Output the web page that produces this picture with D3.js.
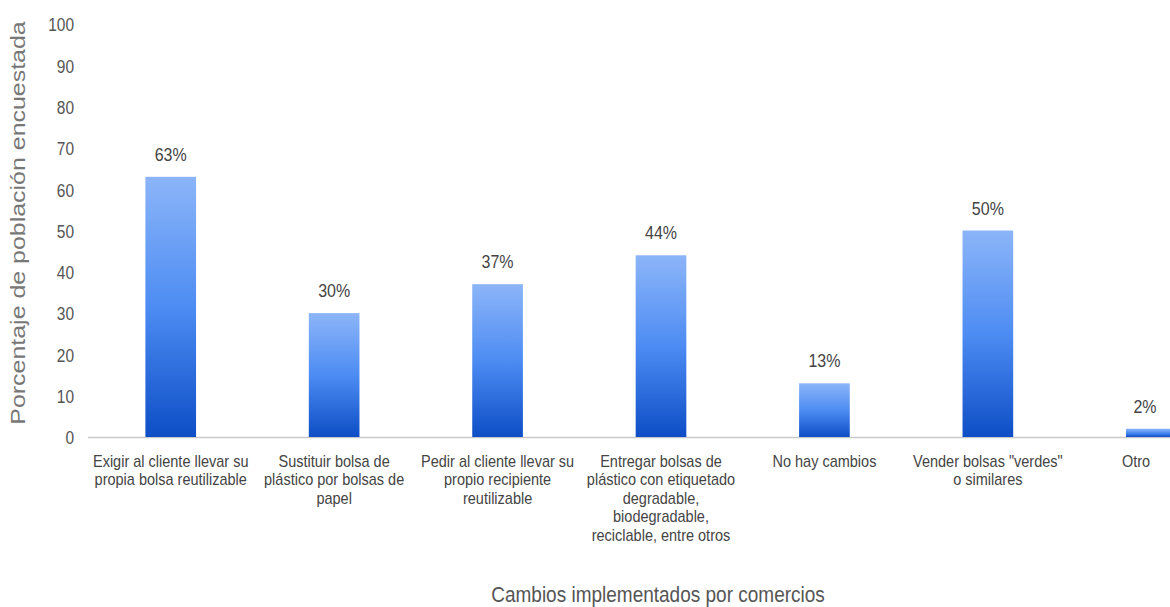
<!DOCTYPE html>
<html>
<head>
<meta charset="utf-8">
<script src="https://cdn.jsdelivr.net/npm/d3@7"></script>
<style>
  html, body { margin: 0; padding: 0; background: #fff; overflow: hidden; }
  svg { display: block; }
</style>
</head>
<body>
<svg id="chart" width="1170" height="607"></svg>
<script>
// Cambios implementados por comercios (porcentaje de población encuestada)
const categoryLines = [
  ["Exigir al cliente llevar su", "propia bolsa reutilizable"],
  ["Sustituir bolsa de", "plástico por bolsas de", "papel"],
  ["Pedir al cliente llevar su", "propio recipiente", "reutilizable"],
  ["Entregar bolsas de", "plástico con etiquetado", "degradable,", "biodegradable,", "reciclable, entre otros"],
  ["No hay cambios"],
  ["Vender bolsas \"verdes\"", "o similares"],
  ["Otro"]
];
const values = [63, 30, 37, 44, 13, 50, 2];
const yTicks = [0, 10, 20, 30, 40, 50, 60, 70, 80, 90, 100];
const yTitle = "Porcentaje de población encuestada";
const xTitle = "Cambios implementados por comercios";

const W = 1170, H = 607;
const font = "'Liberation Sans', Arial, sans-serif";
const svg = d3.select("#chart");

const plot = { left: 89, right: 1233, top: 24, bottom: 437 };

const x = d3.scaleBand()
  .domain(d3.range(values.length))
  .range([plot.left, plot.right])
  .paddingInner(0.69)
  .paddingOuter(0.345);

const y = d3.scaleLinear().domain([0, 100]).range([plot.bottom, plot.top]);

// bar gradient
const defs = svg.append("defs");
const grad = defs.append("linearGradient")
  .attr("id", "barGrad")
  .attr("x1", 0).attr("y1", 0).attr("x2", 0).attr("y2", 1);
grad.append("stop").attr("offset", "0%").attr("stop-color", "#8cb5f8");
grad.append("stop").attr("offset", "50%").attr("stop-color", "#4d8cf3");
grad.append("stop").attr("offset", "100%").attr("stop-color", "#0d4ec6");

// y axis tick labels (condensed look via vertical stretch)
const yAxis = d3.axisLeft(y).tickValues(yTicks).tickSize(0).tickPadding(0).tickFormat(d3.format("d"));
const yG = svg.append("g").attr("transform", "translate(74,0)").call(yAxis);
yG.select(".domain").remove();
yG.selectAll("text")
  .attr("fill", "#555")
  .attr("dy", "0.36em")
  .attr("transform", "scale(1,1.22)")
  .style("font-family", font)
  .style("font-size", "15.5px");

// baseline
svg.append("line")
  .attr("x1", plot.left - 1).attr("x2", W)
  .attr("y1", y(0) + 0.5).attr("y2", y(0) + 0.5)
  .attr("stroke", "#c8c8c8").attr("stroke-width", 1.5);

// bars
svg.append("g").selectAll("rect")
  .data(values)
  .join("rect")
  .attr("x", (d, i) => x(i))
  .attr("y", d => y(d))
  .attr("width", x.bandwidth())
  .attr("height", d => y(0) - y(d))
  .attr("fill", "url(#barGrad)");

// value labels
svg.append("g").selectAll("text")
  .data(values)
  .join("text")
  .attr("transform", (d, i) =>
    `translate(${Math.min(x(i) + x.bandwidth() / 2, 1145)},${y(d) - 16}) scale(1,1.16)`)
  .attr("text-anchor", "middle")
  .attr("fill", "#444")
  .style("font-family", font)
  .style("font-size", "16px")
  .text(d => d + "%");

// category labels
const catStretch = 1.1;
const catG = svg.append("g");
categoryLines.forEach((lines, i) => {
  const cx = Math.min(x(i) + x.bandwidth() / 2, 1136);
  const t = catG.append("text")
    .attr("transform", `translate(${cx},467) scale(1,${catStretch})`)
    .attr("text-anchor", "middle")
    .attr("fill", "#444")
    .style("font-family", font)
    .style("font-size", "14.5px");
  lines.forEach((ln, k) => {
    t.append("tspan").attr("x", 0).attr("y", k * 18.4 / catStretch).text(ln);
  });
});

// axis titles
svg.append("text")
  .attr("transform", `translate(25,223) rotate(-90) scale(1.28,1)`)
  .attr("text-anchor", "middle")
  .attr("fill", "#777")
  .style("font-family", font)
  .style("font-size", "19.5px")
  .text(yTitle);

svg.append("text")
  .attr("transform", `translate(${(plot.left + plot.right) / 2 - 3},602) scale(1,1.15)`)
  .attr("text-anchor", "middle")
  .attr("fill", "#555")
  .style("font-family", font)
  .style("font-size", "19px")
  .text(xTitle);
</script>
</body>
</html>
